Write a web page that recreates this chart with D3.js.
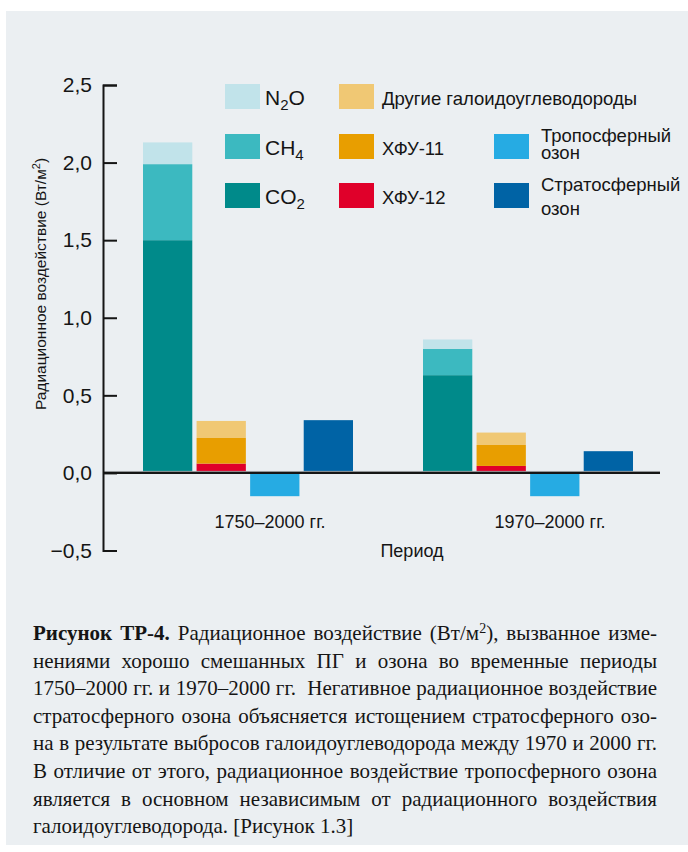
<!DOCTYPE html>
<html>
<head>
<meta charset="utf-8">
<script src="https://cdn.jsdelivr.net/npm/d3@7"></script>
<style>
body { margin: 0; background: #fff; }
#wrap { position: relative; width: 688px; height: 852px; overflow: hidden; }
#panel { position: absolute; left: 6px; top: 11px; width: 682px; height: 834px; background: #ebeff2; }
svg { position: absolute; left: 0; top: 0; }
</style>
</head>
<body>
<div id="wrap">
  <div id="panel"></div>
  <svg id="chart" width="688" height="852"></svg>
</div>
<script>
// values, W/m2
var periods = ["1750–2000 гг.", "1970–2000 гг."];
var co2 = [1.50, 0.63];
var ch4 = [0.49, 0.17];
var n2o = [0.14, 0.06];
var cfc12 = [0.06, 0.045];
var cfc11 = [0.165, 0.135];
var otherHalo = [0.11, 0.08];
var tropO3 = [-0.15, -0.15];
var stratO3 = [0.34, 0.14];
var yTicks = [-0.5, 0, 0.5, 1.0, 1.5, 2.0, 2.5];
var barKeys = ["ghg", "halo", "trop", "strat"];

var colors = {
    co2: "#008a8a", ch4: "#3cb9c0", n2o: "#c1e3ea",
    cfc12: "#e0002a", cfc11: "#e89e00", other: "#f0c874",
    trop: "#26abe3", strat: "#0063a5"
};

// each bar is a stack of pieces, bottom first
function stacksFor(i) {
    return [
        { bar: "ghg", parts: [["co2", co2[i]], ["ch4", ch4[i]], ["n2o", n2o[i]]] },
        { bar: "halo", parts: [["cfc12", cfc12[i]], ["cfc11", cfc11[i]], ["other", otherHalo[i]]] },
        { bar: "trop", parts: [["trop", tropO3[i]]] },
        { bar: "strat", parts: [["strat", stratO3[i]]] }
    ];
}

var svg = d3.select("#chart");
var font = "'Liberation Sans', Arial, Helvetica, sans-serif";
var serif = "'Liberation Serif', 'Times New Roman', serif";

var y = d3.scaleLinear().domain([-0.5, 2.5]).range([550.5, 85]);
var x0 = d3.scaleBand().domain(periods).range([143, 703]);
var x1 = d3.scaleBand().domain(barKeys).range([0, 210]).paddingInner(0.08);

var rects = [];
periods.forEach(function (p, i) {
    stacksFor(i).forEach(function (s) {
        var base = 0;
        s.parts.forEach(function (pt) {
            var v = pt[1];
            rects.push({ period: p, bar: s.bar, key: pt[0], y0: base, y1: base + v });
            base += v;
        });
    });
});

svg.append("g").selectAll("rect").data(rects).join("rect")
    .attr("x", function (d) { return x0(d.period) + x1(d.bar); })
    .attr("width", x1.bandwidth())
    .attr("y", function (d) { return y(Math.max(d.y0, d.y1)); })
    .attr("height", function (d) { return Math.abs(y(d.y0) - y(d.y1)); })
    .attr("fill", function (d) { return colors[d.key]; });

// zero line
svg.append("line").attr("x1", 103).attr("x2", 660)
    .attr("y1", y(0) - 1.5).attr("y2", y(0) - 1.5)
    .attr("stroke", "#b9bdc0").attr("stroke-width", 1);
svg.append("line").attr("x1", 103).attr("x2", 660)
    .attr("y1", y(0)).attr("y2", y(0))
    .attr("stroke", "#151515").attr("stroke-width", 2.4);

// y axis
var ru = d3.formatLocale({ decimal: ",", thousands: " ", grouping: [3], currency: ["", ""], minus: "\u2212" });
var yAxis = d3.axisLeft(y).tickValues(yTicks).tickFormat(ru.format(".1f"))
    .tickSizeInner(-14).tickSizeOuter(-14).tickPadding(11);
var ga = svg.append("g").attr("transform", "translate(103,0)").call(yAxis);
ga.selectAll("path, line").attr("stroke", "#151515").attr("stroke-width", 2);
ga.selectAll("text").attr("font-family", font).attr("font-size", 21).attr("fill", "#151515");

svg.append("text")
    .attr("transform", "translate(46,284) rotate(-90)")
    .attr("text-anchor", "middle")
    .attr("font-family", font).attr("font-size", 15.5).attr("fill", "#151515")
    .html("Радиационное воздействие (Вт/м<tspan dy='-6' font-size='11'>2</tspan><tspan dy='6'>)</tspan>");

// period labels
svg.append("g").selectAll("text").data(periods).join("text")
    .attr("x", function (d) { return x0(d) + 127; })
    .attr("y", 528)
    .attr("text-anchor", "middle")
    .attr("font-family", font).attr("font-size", 18).attr("fill", "#151515")
    .text(function (d) { return d; });

svg.append("text").attr("x", 412).attr("y", 557).attr("text-anchor", "middle")
    .attr("font-family", font).attr("font-size", 18).attr("fill", "#151515")
    .text("Период");

// legend
var legendItems = [
    { key: "n2o", col: 0, row: 0, chem: ["N", "2", "O"] },
    { key: "ch4", col: 0, row: 1, chem: ["CH", "4", ""] },
    { key: "co2", col: 0, row: 2, chem: ["CO", "2", ""] },
    { key: "other", col: 1, row: 0, lines: ["Другие галоидоуглеводороды"] },
    { key: "cfc11", col: 1, row: 1, lines: ["ХФУ-11"] },
    { key: "cfc12", col: 1, row: 2, lines: ["ХФУ-12"] },
    { key: "trop", col: 2, row: 1, lines: ["Тропосферный", "озон"], gap: 16.5 },
    { key: "strat", col: 2, row: 2, lines: ["Стратосферный", "озон"], gap: 24 }
];
var colX = [225, 339, 494];
var rowY = [84, 134, 183];

var lg = svg.append("g").selectAll("g").data(legendItems).join("g")
    .attr("transform", function (d) { return "translate(" + colX[d.col] + "," + rowY[d.row] + ")"; });
lg.append("rect").attr("width", 35).attr("height", 25)
    .attr("fill", function (d) { return colors[d.key]; });
lg.each(function (d) {
    var g = d3.select(this);
    if (d.chem) {
        var t = g.append("text").attr("x", 40).attr("y", 21)
            .attr("font-family", font).attr("font-size", 21).attr("fill", "#151515");
        t.append("tspan").text(d.chem[0]);
        t.append("tspan").attr("dy", 5).attr("font-size", 15).text(d.chem[1]);
        if (d.chem[2]) t.append("tspan").attr("dy", -5).text(d.chem[2]);
    } else if (d.lines.length == 1) {
        g.append("text").attr("x", 43).attr("y", 21)
            .attr("font-family", font).attr("font-size", 18.5).attr("fill", "#151515")
            .text(d.lines[0]);
    } else {
        var t2 = g.append("text").attr("font-family", font).attr("font-size", 18.5).attr("fill", "#151515");
        t2.append("tspan").attr("x", 47).attr("y", 8).text(d.lines[0]);
        t2.append("tspan").attr("x", 47).attr("dy", d.gap).text(d.lines[1]);
    }
});

// caption: lines broken as in the original, each one justified by word spacing
// a piece is [text, style] where style is "b" bold, "sup" superscript or ""
var captionLines = [
    [["Рисунок ТР-4.", "b"], [" Радиационное воздействие (Вт/м", ""], ["2", "sup"], ["), вызванное изме-", ""]],
    [["нениями хорошо смешанных ПГ и озона во временные периоды", ""]],
    [["1750–2000 гг. и 1970–2000 гг.  Негативное радиационное воздействие", ""]],
    [["стратосферного озона объясняется истощением стратосферного озо-", ""]],
    [["на в результате выбросов галоидоуглеводорода между 1970 и 2000 гг.", ""]],
    [["В отличие от этого, радиационное воздействие тропосферного озона", ""]],
    [["является в основном независимым от радиационного воздействия", ""]],
    [["галоидоуглеводорода. [Рисунок 1.3]", ""]]
];
var capLeft = 33, capRight = 657, capTop = 640, capStep = 27.6;

var cap = svg.append("g").attr("font-family", serif).attr("font-size", 21).attr("fill", "#151515");
captionLines.forEach(function (pieces, i) {
    var t = cap.append("text").attr("x", capLeft).attr("y", capTop + i * capStep)
        .style("white-space", "pre");
    pieces.forEach(function (pc) {
        var ts = t.append("tspan").text(pc[0]);
        if (pc[1] == "b") ts.attr("font-weight", "bold");
        if (pc[1] == "sup") ts.attr("font-size", 14).attr("dy", -7);
        if (i == 0 && pc[0].charAt(0) == ")") ts.attr("dy", 7);
    });
    if (i < captionLines.length - 1) {
        var full = pieces.map(function (pc) { return pc[0]; }).join("");
        var gaps = full.split(" ").length - 1;
        var len = t.node().getComputedTextLength();
        t.style("word-spacing", ((capRight - capLeft - len) / gaps) + "px");
    }
});
</script>
</body>
</html>
